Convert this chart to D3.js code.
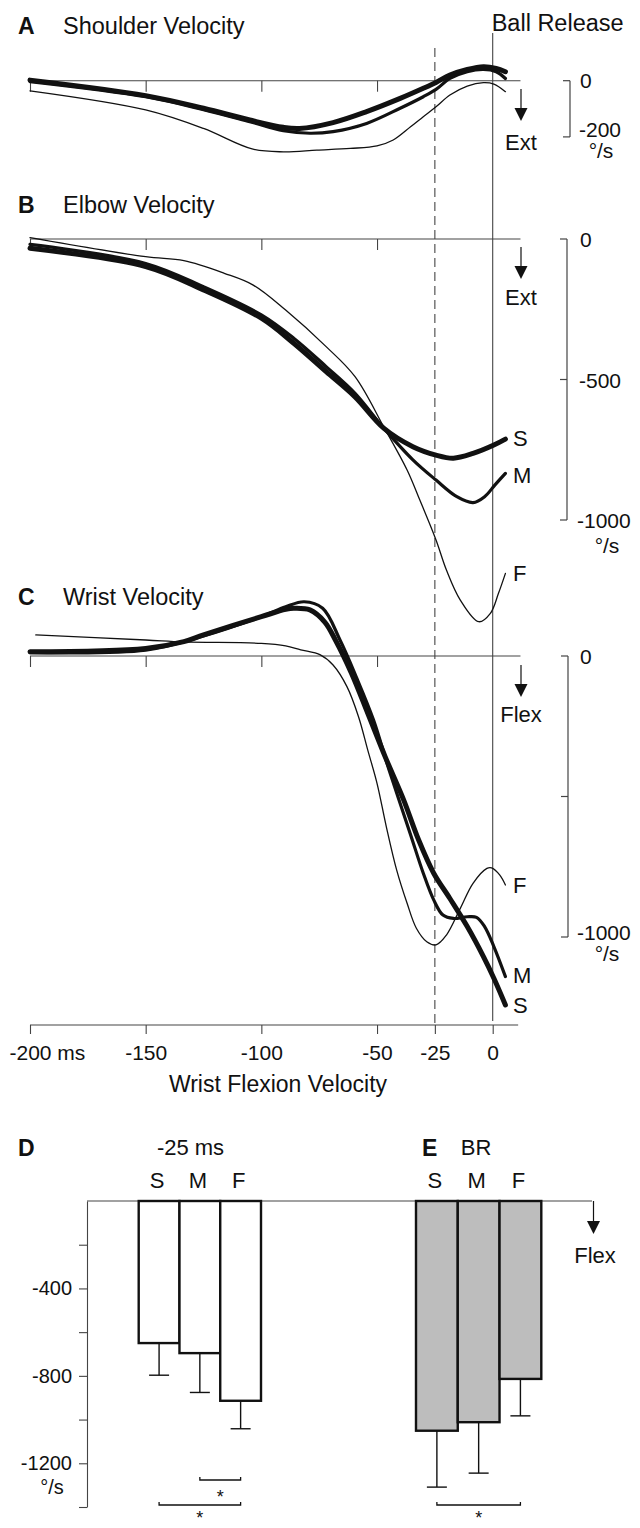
<!DOCTYPE html>
<html><head><meta charset="utf-8">
<script src="https://cdn.jsdelivr.net/npm/d3@7"></script>
<style>
body{margin:0;background:#fff}
text{font-family:"Liberation Sans",Arial,Helvetica,sans-serif;fill:#111}
</style>
</head><body>
<svg id="chart" width="640" height="1528"></svg>
<script>
// ---------- DATA ----------
const conditions = ["S","M","F"];
const timeTicks = [-200,-150,-100,-50,-25,0];
const zeroLineTicks = [-200,-150,-100,-50];

// Shoulder velocity (deg/s) : [time ms, value]
const shoulderS = [[-200,2],[-150,-53],[-125,-98],[-105,-140],[-90.5,-166],[-83.5,-170],[-69,-149],[-54.5,-110],[-40,-63],[-30,-27],[-24.5,-6],[-18.5,20],[-11,40],[-4,50],[1.5,44],[5.5,32]];
const shoulderM = [[-200,-3],[-150,-57],[-125,-103],[-105,-146],[-90.5,-178],[-79,-187],[-69,-181],[-54.5,-152],[-40,-98],[-30,-57],[-24.5,-31],[-18.5,8],[-11,32],[-4,40],[1.5,32],[5.5,8]];
const shoulderF = [[-200,-36],[-150,-104],[-125,-170],[-104,-243],[-90.5,-253],[-76,-247],[-61.5,-241],[-50,-232],[-43,-211],[-35.5,-164],[-30,-128],[-24.5,-93],[-18.5,-51],[-11,-19],[-4,-7],[0.5,-12],[5.5,-39]];

// Elbow velocity
const elbowS = [[-200,-33],[-150,-98],[-125,-181],[-100,-282],[-86,-371],[-72,-472],[-59.5,-562],[-47,-674],[-34.5,-739],[-24.5,-769],[-17,-780],[-8.5,-763],[0.5,-733],[5.5,-712]];
const elbowM = [[-200,-19],[-150,-87],[-125,-170],[-100,-270],[-86,-353],[-72,-454],[-59.5,-549],[-47,-674],[-34.5,-786],[-24.5,-858],[-15.5,-917],[-8.5,-938],[-3.5,-917],[1,-875],[5.5,-834]];
const elbowF = [[-200,5],[-150,-63],[-133.5,-77],[-116,-122],[-103.5,-164],[-89.5,-253],[-72,-383],[-59.5,-490],[-47,-670],[-37,-822],[-31.5,-929],[-24.5,-1071],[-20,-1178],[-14,-1285],[-6,-1362],[-1,-1332],[2.5,-1261],[5.5,-1190]];

// Wrist velocity
const wristS = [[-200,15],[-150,27],[-133.5,51],[-125,75],[-100,140],[-89.5,166],[-86,170],[-79,164],[-72.5,120],[-68,57],[-61,-62],[-54,-204],[-46.5,-358],[-38.5,-512],[-32,-655],[-25.5,-773],[-18.5,-863],[-11,-963],[-4,-1070],[0.5,-1147],[5.5,-1242]];
const wristM = [[-200,12],[-150,21],[-125,71],[-100,140],[-89.5,175],[-81.5,193],[-73.5,170],[-66,57],[-59,-74],[-51.5,-228],[-45,-400],[-35.5,-636],[-30,-773],[-25.5,-868],[-21.5,-922],[-17,-934],[-11,-928],[-7,-930],[-3.5,-963],[0.5,-1034],[5.5,-1141]];
const wristF = [[-197.5,75],[-150,57],[-133.5,50],[-100,45],[-89.5,36],[-83,22],[-74.5,4],[-69,-32],[-63,-109],[-58,-216],[-54,-335],[-50,-453],[-46,-607],[-41.5,-762],[-37,-880],[-33,-969],[-28.5,-1017],[-24.5,-1028],[-20,-993],[-14,-898],[-8.5,-809],[-2.5,-756],[-0.5,-754],[3,-779],[5.5,-815]];

// Bar panels (wrist flexion velocity, deg/s)
const barTicks = [-200,-400,-600,-800,-1000,-1200,-1400];
const barLabelTicks = [-400,-800,-1200];
const at25Mean = [-650,-696,-914];
const at25SD   = [147,180,128];
const atBRMean = [-1051,-1012,-814];
const atBRSD   = [258,233,169];
const sigPairs = [
  {panel:"D", from:"M", to:"F", level:0},
  {panel:"D", from:"S", to:"F", level:1},
  {panel:"E", from:"S", to:"F", level:1}
];

// ---------- DRAWING ----------
const svg = d3.select("#chart");
const AX = "#444";
const FONT = "'Liberation Sans',Arial,sans-serif";
const x = d3.scaleLinear().domain([-200,0]).range([30,492.7]);
const K = 0.281; // px per deg/s
const widths = {S:5, M:3.2, F:1.3};

const panels = [
  {letter:"A", title:"Shoulder Velocity", y0:80.7, data:{S:shoulderS,M:shoulderM,F:shoulderF},
   titleY:34, dir:"Ext", arrowTop:89, arrowTip:121, dirY:150,
   scaleX:570, scaleBottom:-200, scaleTicks:[0,-200],
   scaleLabels:[{v:0,t:"0",dy:0},{v:-200,t:"-200",dy:-7}], unitY:150, unitX:601, endLabels:null},
  {letter:"B", title:"Elbow Velocity", y0:239, data:{S:elbowS,M:elbowM,F:elbowF},
   titleY:213, dir:"Ext", arrowTop:247, arrowTip:279, dirY:305,
   scaleX:567, scaleBottom:-1000, scaleTicks:[0,-500,-1000],
   scaleLabels:[{v:0,t:"0",dy:0},{v:-500,t:"-500",dy:1},{v:-1000,t:"-1000",dy:0}], unitY:545, unitX:607,
   endLabels:{S:438,M:475,F:573}},
  {letter:"C", title:"Wrist Velocity", y0:656, data:{S:wristS,M:wristM,F:wristF},
   titleY:605, dir:"Flex", arrowTop:665, arrowTip:697, dirY:722,
   scaleX:568, scaleBottom:-1000, scaleTicks:[0,-500,-1000],
   scaleLabels:[{v:0,t:"0",dy:0},{v:-1000,t:"-1000",dy:-5}], unitY:953, unitX:607,
   endLabels:{F:885,M:975,S:1005}}
];

function arrow(g, cx, top, tip, color){
  g.append("line").attr("x1",cx).attr("x2",cx).attr("y1",top).attr("y2",tip-12)
    .attr("stroke",color).attr("stroke-width",1.2);
  g.append("path").attr("d",`M${cx-6.5},${tip-13}L${cx+6.5},${tip-13}L${cx},${tip}Z`).attr("fill",color);
}

// vertical reference lines
svg.append("line").attr("x1",x(0)).attr("x2",x(0)).attr("y1",33).attr("y2",1021)
  .attr("stroke",AX).attr("stroke-width",1.1);
svg.append("line").attr("x1",x(-25)).attr("x2",x(-25)).attr("y1",48).attr("y2",1025)
  .attr("stroke",AX).attr("stroke-width",1.1).attr("stroke-dasharray","9,5");
svg.append("text").attr("x",x(0)-1).attr("y",31).attr("font-size",23.5).text("Ball Release");

panels.forEach(p=>{
  const y = d3.scaleLinear().domain([0,-1000]).range([p.y0, p.y0+1000*K]);
  const g = svg.append("g");
  g.append("text").attr("x",18).attr("y",p.titleY).attr("font-size",23).attr("font-weight","bold").text(p.letter);
  g.append("text").attr("x",63).attr("y",p.titleY).attr("font-size",23.5).text(p.title);
  g.append("line").attr("x1",x(-200)).attr("x2",x(12)).attr("y1",p.y0).attr("y2",p.y0)
    .attr("stroke",AX).attr("stroke-width",1.1);
  const ax = g.append("g").attr("transform",`translate(0,${p.y0})`)
    .call(d3.axisBottom(x).tickValues(zeroLineTicks).tickSize(11).tickFormat(""));
  ax.select(".domain").remove();
  ax.selectAll(".tick line").attr("stroke",AX).attr("stroke-width",1.1);
  arrow(g, 521, p.arrowTop, p.arrowTip, "#111");
  g.append("text").attr("x",521).attr("y",p.dirY).attr("font-size",22).attr("text-anchor","middle").text(p.dir);
  g.append("line").attr("x1",p.scaleX).attr("x2",p.scaleX).attr("y1",y(0)).attr("y2",y(p.scaleBottom))
    .attr("stroke",AX).attr("stroke-width",1.2);
  p.scaleTicks.forEach(v=>{
    g.append("line").attr("x1",p.scaleX-7).attr("x2",p.scaleX).attr("y1",y(v)).attr("y2",y(v))
      .attr("stroke",AX).attr("stroke-width",1.2);
  });
  p.scaleLabels.forEach(l=>{
    g.append("text").attr("x",l.v===0?580:(l.t.length>4?577:579)).attr("y",y(l.v)+7.5+l.dy)
      .attr("font-size",21).text(l.t);
  });
  g.append("text").attr("x",p.unitX).attr("y",p.unitY+7.5).attr("font-size",21)
    .attr("text-anchor","middle").text("°/s");
  const line = d3.line().x(d=>x(d[0])).y(d=>y(d[1])).curve(d3.curveCatmullRom.alpha(0.5));
  ["F","M","S"].forEach(c=>{
    g.append("path").datum(p.data[c]).attr("d",line).attr("fill","none")
      .attr("stroke","#111").attr("stroke-width",widths[c]).attr("stroke-linecap","round")
      .attr("stroke-linejoin","round");
  });
  if(p.endLabels){
    Object.entries(p.endLabels).forEach(([c,yy])=>{
      g.append("text").attr("x",513).attr("y",yy+8).attr("font-size",22).text(c);
    });
  }
});

// bottom time axis
const bx = svg.append("g").attr("transform","translate(0,1025)")
  .call(d3.axisBottom(x).tickValues(timeTicks).tickSize(9).tickPadding(11)
    .tickFormat(d=> d===-200 ? "-200 ms" : String(d)));
bx.select(".domain").remove();
bx.selectAll(".tick line").attr("stroke",AX).attr("stroke-width",1.1);
bx.selectAll(".tick text").attr("font-size",21).attr("fill","#111").attr("font-family",FONT);
bx.selectAll(".tick text").filter(d=>d===-200).attr("text-anchor","start").attr("x",-21);
svg.append("line").attr("x1",x(-200)).attr("x2",x(11)).attr("y1",1025).attr("y2",1025)
  .attr("stroke",AX).attr("stroke-width",1.1);
svg.append("text").attr("x",278).attr("y",1092).attr("font-size",23).attr("text-anchor","middle")
  .text("Wrist Flexion Velocity");

// ---------- BAR PANELS ----------
const yb = d3.scaleLinear().domain([0,-1400]).range([1201,1507]);
const bandD = d3.scaleBand().domain(conditions).range([138.7,261]).padding(0);
const bandE = d3.scaleBand().domain(conditions).range([416,541.3]).padding(0);

const lax = svg.append("g").attr("transform","translate(87,0)")
  .call(d3.axisLeft(yb).tickValues(barTicks).tickSize(8).tickSizeOuter(0).tickPadding(7)
    .tickFormat(d=> barLabelTicks.includes(d) ? String(d) : ""));
lax.select(".domain").attr("stroke",AX).attr("stroke-width",1.1);
lax.selectAll(".tick line").attr("stroke",AX).attr("stroke-width",1.1);
lax.selectAll(".tick text").attr("font-size",20).attr("fill","#111").attr("font-family",FONT);
svg.append("text").attr("x",52).attr("y",1494).attr("font-size",20).attr("text-anchor","middle").text("°/s");

svg.append("line").attr("x1",87).attr("x2",592).attr("y1",yb(0)).attr("y2",yb(0))
  .attr("stroke",AX).attr("stroke-width",1.1);
arrow(svg, 593.5, 1201, 1234, "#111");
svg.append("text").attr("x",595).attr("y",1263).attr("font-size",22).attr("text-anchor","middle").text("Flex");

const barPanels = [
  {key:"D", band:bandD, mean:at25Mean, sd:at25SD, fill:"#ffffff", letterX:18, head:"-25 ms", headX:190.5},
  {key:"E", band:bandE, mean:atBRMean, sd:atBRSD, fill:"#bdbdbd", letterX:422, head:"BR", headX:476}
];
barPanels.forEach(bp=>{
  const g = svg.append("g");
  g.append("text").attr("x",bp.letterX).attr("y",1156).attr("font-size",23).attr("font-weight","bold").text(bp.key);
  g.append("text").attr("x",bp.headX).attr("y",1155).attr("font-size",22).attr("text-anchor","middle").text(bp.head);
  conditions.forEach((c,i)=>{
    const cx = bp.band(c)+bp.band.bandwidth()/2;
    g.append("text").attr("x",cx-2).attr("y",1188).attr("font-size",22).attr("text-anchor","middle").text(c);
    g.append("line").attr("x1",cx).attr("x2",cx).attr("y1",yb(bp.mean[i])).attr("y2",yb(bp.mean[i]-bp.sd[i]))
      .attr("stroke","#111").attr("stroke-width",1.4);
    g.append("line").attr("x1",cx-10).attr("x2",cx+10).attr("y1",yb(bp.mean[i]-bp.sd[i])).attr("y2",yb(bp.mean[i]-bp.sd[i]))
      .attr("stroke","#111").attr("stroke-width",1.4);
    g.append("rect").attr("x",bp.band(c)).attr("width",bp.band.bandwidth())
      .attr("y",yb(0)).attr("height",yb(bp.mean[i])-yb(0))
      .attr("fill",bp.fill).attr("stroke","#111").attr("stroke-width",2.4);
  });
});

// significance brackets
sigPairs.forEach(s=>{
  const band = s.panel==="D" ? bandD : bandE;
  const x1 = band(s.from)+band.bandwidth()/2, x2 = band(s.to)+band.bandwidth()/2;
  const yy = s.level===0 ? 1480 : 1505;
  svg.append("path").attr("d",`M${x1},${yy-3}V${yy}H${x2}V${yy-3}`).attr("fill","none")
    .attr("stroke","#111").attr("stroke-width",1.3);
  svg.append("text").attr("x",(x1+x2)/2).attr("y",s.level===0 ? 1503 : 1524)
    .attr("font-size",18).attr("text-anchor","middle").text("*");
});
</script>
</body></html>
